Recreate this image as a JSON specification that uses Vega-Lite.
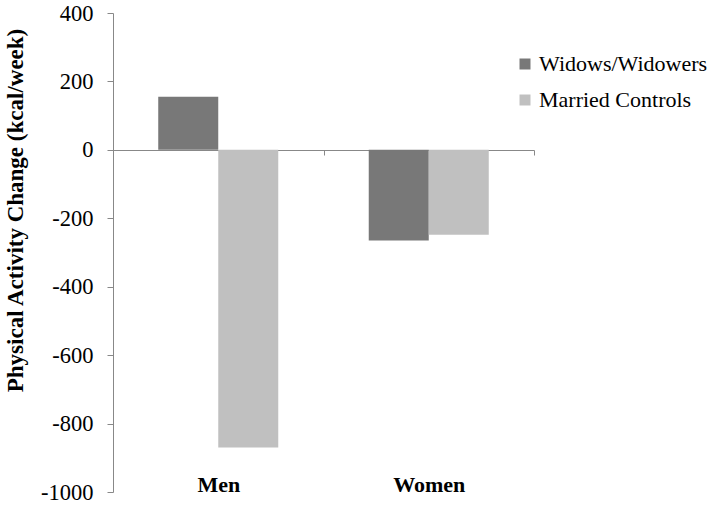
{
  "$schema": "https://vega.github.io/schema/vega-lite/v6.json",
  "width": 421,
  "height": 479,
  "autosize": {"type": "none"},
  "padding": {"left": 113, "top": 13, "right": 180, "bottom": 14},
  "background": "white",
  "config": {"font": "Liberation Serif", "view": {"stroke": null}},
  "data": {"values": [
    {"sex": "Men", "group": "Widows/Widowers", "change": 155},
    {"sex": "Men", "group": "Married Controls", "change": -870},
    {"sex": "Women", "group": "Widows/Widowers", "change": -265},
    {"sex": "Women", "group": "Married Controls", "change": -248}
  ]},
  "mark": {"type": "bar"},
  "encoding": {
    "x": {
      "field": "sex", "type": "nominal", "sort": ["Men", "Women"],
      "scale": {"paddingInner": 0, "paddingOuter": 0},
      "axis": {
        "title": null, "orient": "bottom", "offset": -342, "tickBand": "extent",
        "domainColor": "#888888", "tickColor": "#888888", "tickSize": 5,
        "labelPadding": 336, "labelBaseline": "alphabetic",
        "labelFont": "Liberation Serif", "labelFontSize": 22, "labelFontWeight": "bold",
        "labelColor": "black", "labelAngle": 0
      }
    },
    "xOffset": {
      "field": "group", "type": "nominal", "sort": ["Widows/Widowers", "Married Controls"],
      "scale": {"paddingInner": 0, "paddingOuter": 0.754}
    },
    "y": {
      "field": "change", "type": "quantitative",
      "scale": {"domain": [-1000, 400], "nice": false},
      "axis": {
        "values": [-1000, -800, -600, -400, -200, 0, 200, 400],
        "labelExpr": "datum.value + ''",
        "grid": false,
        "title": "Physical Activity Change (kcal/week)",
        "titleFont": "Liberation Serif", "titleFontSize": 23, "titleFontWeight": "bold", "titleColor": "black",
        "titleX": -98, "titleY": 197, "titleAngle": -90, "titleAlign": "center", "titleBaseline": "middle",
        "domainColor": "#888888", "tickColor": "#888888", "tickSize": 6,
        "labelPadding": 14, "labelFont": "Liberation Serif", "labelFontSize": 22.5, "labelColor": "black"
      }
    },
    "color": {
      "field": "group", "type": "nominal",
      "scale": {"domain": ["Widows/Widowers", "Married Controls"], "range": ["#787878", "#c0c0c0"]},
      "legend": {
        "title": null, "orient": "none", "legendX": 401, "legendY": 40,
        "symbolType": "square", "symbolSize": 121, "symbolStrokeWidth": 0,
        "labelFont": "Liberation Serif", "labelFontSize": 22, "labelColor": "black",
        "labelOffset": 3, "rowPadding": 14, "padding": 0, "labelLimit": 300
      }
    }
  }
}
